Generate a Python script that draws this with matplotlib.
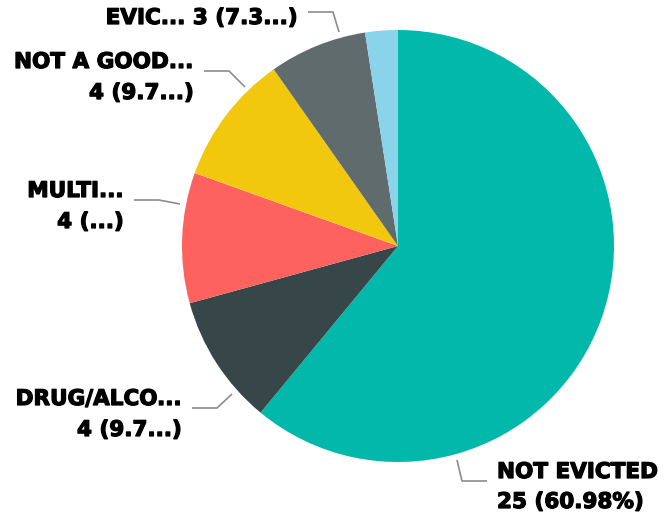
import matplotlib.pyplot as plt
import matplotlib.patheffects as pe

# data (clockwise from 12 o'clock)
categories = ["NOT EVICTED", "DRUG/ALCO...", "MULTI...", "NOT A GOOD...", "EVIC...", ""]
counts = [25, 4, 4, 4, 3, 1]
colors = ["#01B8AA", "#374649", "#FD625E", "#F2C80F", "#5F6B6D", "#8AD4EB"]
# data labels as truncated in the picture
line1 = ["NOT EVICTED", "DRUG/ALCO...", "MULTI...", "NOT A GOOD...", "EVIC... 3 (7.3...)", None]
line2 = ["25 (60.98%)", "4 (9.7...)", "4 (...)", "4 (9.7...)", None, None]

W, H = 670, 519
cx, cy, r = 398, 246, 216


def Y(y):
    return H - y


fig = plt.figure(figsize=(6.7, 5.19), dpi=100)
ax = fig.add_axes([0, 0, 1, 1])
ax.pie(counts, colors=colors, startangle=90, counterclock=False,
       center=(cx, Y(cy)), radius=r)
ax.set_xlim(0, W)
ax.set_ylim(0, H)
ax.set_aspect("equal")
ax.axis("off")

# label layout (pixel positions): text anchor x, align, baselines, leader polyline
layout = [
    (497, "left", (478, 508), [(457, 460), (462, 481), (487, 481)]),
    (182, "right", (405, 436), [(232, 394), (217, 408), (192, 408)]),
    (124, "right", (197, 228), [(180, 204), (159, 200), (134, 200)]),
    (194, "right", (68, 99), [(245, 87), (229, 71), (204, 71)]),
    (298, "right", (24, None), [(339, 32), (333, 12), (308, 12)]),
]

heavy = [pe.withStroke(linewidth=0.9, foreground="black")]
font = dict(family="DejaVu Sans", weight="bold", size=15.5, color="black",
            path_effects=heavy)
for i, (tx, ha, (b1, b2), pts) in enumerate(layout):
    xs = [p[0] for p in pts]
    ys = [Y(p[1]) for p in pts]
    ax.plot(xs, ys, color="#8C8C8C", lw=1.2, solid_capstyle="butt")
    ax.text(tx, Y(b1), line1[i], ha=ha, va="baseline", **font)
    if line2[i]:
        ax.text(tx, Y(b2), line2[i], ha=ha, va="baseline", **font)

fig.savefig("out.png", dpi=100)
